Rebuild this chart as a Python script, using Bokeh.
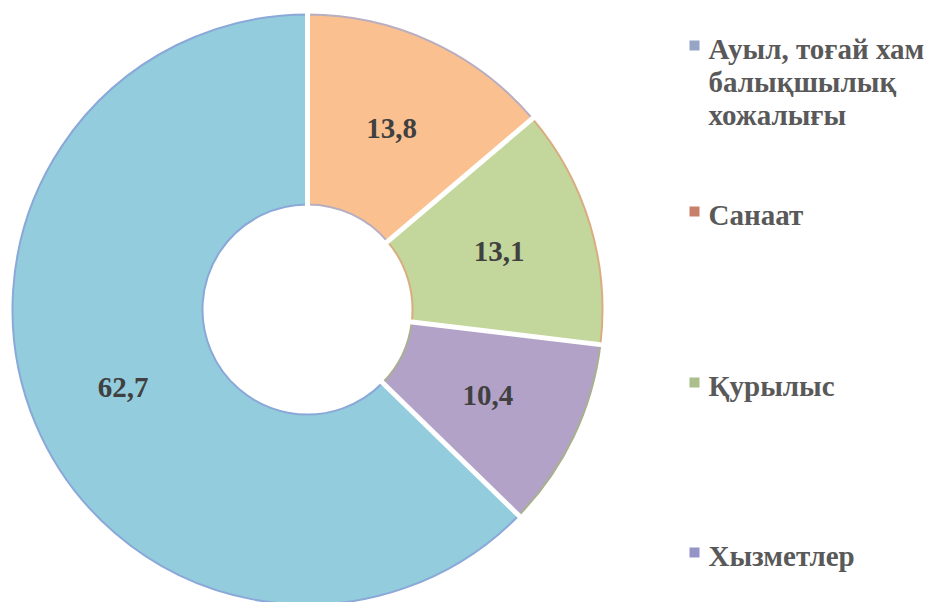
import math
from bokeh.plotting import figure
from bokeh.models import Range1d, ColumnDataSource
from bokeh.core.properties import value
from bokeh.embed import file_html
from bokeh.resources import INLINE

# ---- data ----
categories = ["Ауыл, тоғай хам\nбалықшылық\nхожалығы", "Санаат", "Қурылыс", "Хызметлер"]
values = [13.8, 13.1, 10.4, 62.7]
value_labels = ["13,8", "13,1", "10,4", "62,7"]

# ---- style ----
slice_colors = ["#FAC090", "#C3D69B", "#B2A2C7", "#93CDDD"]
edge_colors = ["#B8AEC0", "#D8AE80", "#A8B090", "#8AA8D8"]
legend_colors = ["#96A5C6", "#C8806A", "#AABF8C", "#9494C8"]
W, H = 930, 602
cx, cy = 307, H - 309
r_out, r_in = 296, 104
FONT = "Times New Roman, Liberation Serif, serif"

p = figure(width=W, height=H, x_range=Range1d(0, W), y_range=Range1d(0, H),
           output_backend="svg", toolbar_location=None,
           x_axis_type=None, y_axis_type=None, min_border=0)
p.grid.visible = False
p.outline_line_color = None
p.background_fill_color = "white"

total = sum(values)
starts, ends, mids = [], [], []
acc = 0.0
for v in values:
    a0 = math.pi / 2 - 2 * math.pi * acc / total
    acc += v
    a1 = math.pi / 2 - 2 * math.pi * acc / total
    starts.append(a0)
    ends.append(a1)
    mids.append((a0 + a1) / 2)

src = ColumnDataSource(dict(start=starts, end=ends, fill=slice_colors, edge=edge_colors))
p.annular_wedge(x=cx, y=cy, inner_radius=r_in + 1, outer_radius=r_out - 1,
                start_angle="start", end_angle="end", direction="clock",
                fill_color="fill", line_color="edge", line_width=2, source=src)

# white separators
sx0 = [cx + (r_in - 3) * math.cos(a) for a in starts]
sy0 = [cy + (r_in - 3) * math.sin(a) for a in starts]
sx1 = [cx + (r_out + 3) * math.cos(a) for a in starts]
sy1 = [cy + (r_out + 3) * math.sin(a) for a in starts]
p.segment(x0=sx0, y0=sy0, x1=sx1, y1=sy1, line_color="white", line_width=5)

# value labels
r_mid = (r_in + r_out) / 2
lx = [cx + r_mid * math.cos(a) for a in mids]
ly = [cy + r_mid * math.sin(a) for a in mids]
p.text(x=lx, y=ly, text=value_labels, text_font=value(FONT), text_font_style="bold",
       text_font_size="29px", text_color="#404040", text_align="center",
       text_baseline="middle")

# legend
legend_row_y = [H - 48, H - 214, H - 385, H - 555]
line_gap = 33
marker_x = 694
text_x = 708
for i, cat in enumerate(categories):
    lines = cat.split("\n")
    y0 = legend_row_y[i]
    p.rect(x=[marker_x], y=[y0 + 3], width=10, height=10,
           fill_color=legend_colors[i], line_color=None)
    p.text(x=[text_x] * len(lines), y=[y0 - k * line_gap for k in range(len(lines))],
           text=lines, text_font=value(FONT), text_font_style="bold",
           text_font_size="29px", text_color="#595959", text_align="left",
           text_baseline="middle")

open("out.html", "w").write(file_html(p, INLINE))
